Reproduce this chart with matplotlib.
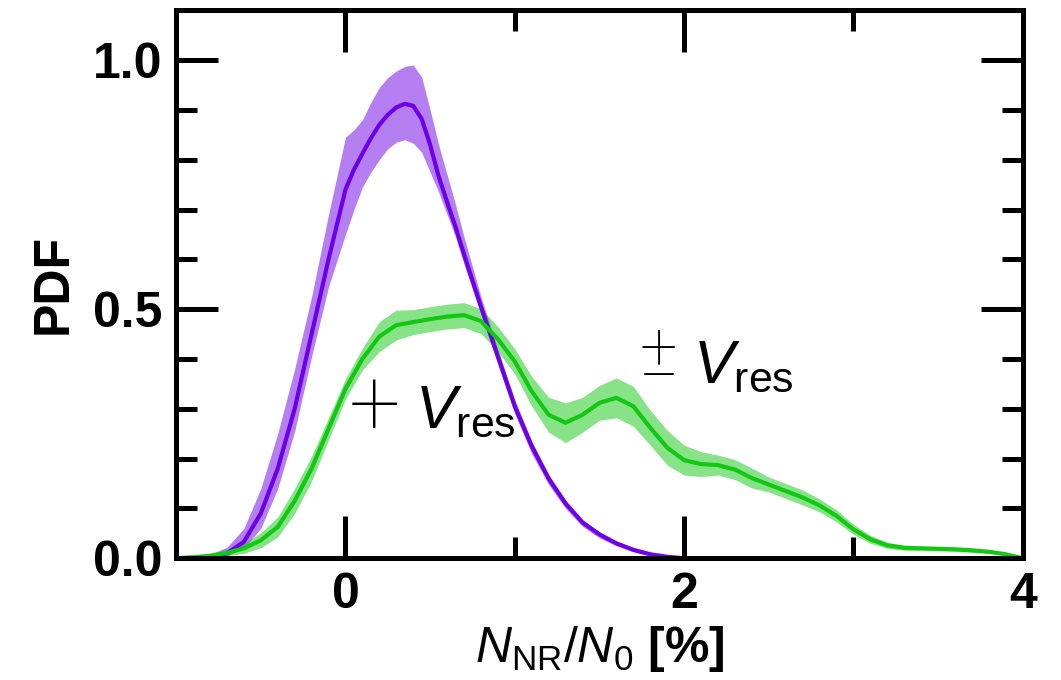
import numpy as np
import matplotlib
matplotlib.use('Agg')
import matplotlib.pyplot as plt
from matplotlib.ticker import MultipleLocator

# fonts: Helvetica-like, math in the same family
plt.rcParams['font.family'] = ['Liberation Sans', 'DejaVu Sans']
plt.rcParams['mathtext.fontset'] = 'custom'
plt.rcParams['mathtext.rm'] = 'Liberation Sans'
plt.rcParams['mathtext.it'] = 'Liberation Sans:italic'
plt.rcParams['mathtext.bf'] = 'Liberation Sans:bold'

# +V_res (purple): mean and band edges
x_plus = [-1.0, -0.9, -0.8, -0.7, -0.6, -0.5, -0.4, -0.3, -0.2, -0.1,
          0.0, 0.05, 0.1, 0.15, 0.2, 0.25, 0.3, 0.35, 0.4, 0.45,
          0.5, 0.55, 0.6, 0.65, 0.7, 0.8, 0.9,
          1.0, 1.1, 1.2, 1.3, 1.4, 1.5, 1.6, 1.7, 1.8, 1.9, 2.0]
pdf_plus = [0.000, 0.001, 0.003, 0.010, 0.033, 0.090, 0.180, 0.300, 0.450, 0.600,
            0.740, 0.780, 0.812, 0.843, 0.870, 0.890, 0.905, 0.912, 0.908, 0.882,
            0.830, 0.767, 0.715, 0.665, 0.610, 0.505, 0.405,
            0.305, 0.225, 0.160, 0.110, 0.072, 0.048, 0.030, 0.017, 0.008, 0.003, 0.000]
pdf_plus_lo = [0.000, 0.000, 0.001, 0.005, 0.020, 0.060, 0.140, 0.255, 0.405, 0.545,
               0.650, 0.700, 0.745, 0.775, 0.800, 0.822, 0.835, 0.840, 0.833, 0.815,
               0.775, 0.735, 0.690, 0.645, 0.590, 0.490, 0.390,
               0.290, 0.210, 0.148, 0.100, 0.064, 0.041, 0.025, 0.013, 0.005, 0.001, 0.000]
pdf_plus_hi = [0.000, 0.002, 0.008, 0.022, 0.060, 0.140, 0.250, 0.380, 0.525, 0.690,
               0.845, 0.860, 0.880, 0.915, 0.945, 0.965, 0.978, 0.987, 0.990, 0.966,
               0.900, 0.830, 0.770, 0.710, 0.645, 0.525, 0.420,
               0.318, 0.235, 0.168, 0.116, 0.077, 0.052, 0.033, 0.019, 0.009, 0.003, 0.000]

# ±V_res (green), x from -1.0 to 4.0 step 0.1
x_pm = [-1.0, -0.9, -0.8, -0.7, -0.6, -0.5, -0.4, -0.3, -0.2, -0.1,
        0.0, 0.1, 0.2, 0.3, 0.4, 0.5, 0.6, 0.7, 0.8, 0.9,
        1.0, 1.1, 1.2, 1.3, 1.4, 1.5, 1.6, 1.7, 1.8, 1.9,
        2.0, 2.1, 2.2, 2.3, 2.4, 2.5, 2.6, 2.7, 2.8, 2.9,
        3.0, 3.1, 3.2, 3.3, 3.4, 3.5, 3.6, 3.7, 3.8, 3.9, 4.0]
pdf_pm = [0.000, 0.002, 0.005, 0.011, 0.020, 0.036, 0.063, 0.115, 0.180, 0.260,
          0.340, 0.400, 0.445, 0.468, 0.474, 0.480, 0.485, 0.488, 0.476, 0.440,
          0.395, 0.335, 0.288, 0.272, 0.288, 0.312, 0.322, 0.305, 0.262, 0.222,
          0.197, 0.189, 0.187, 0.178, 0.161, 0.148, 0.135, 0.122, 0.106, 0.085,
          0.058, 0.038, 0.026, 0.021, 0.020, 0.019, 0.018, 0.016, 0.013, 0.008, 0.000]
pdf_pm_err = [0.000, 0.001, 0.003, 0.006, 0.010, 0.015, 0.020, 0.025, 0.025, 0.022,
              0.020, 0.022, 0.030, 0.030, 0.025, 0.025, 0.025, 0.025, 0.025, 0.025,
              0.025, 0.030, 0.035, 0.040, 0.035, 0.035, 0.040, 0.040, 0.035, 0.035,
              0.030, 0.025, 0.020, 0.020, 0.020, 0.015, 0.015, 0.015, 0.013, 0.012,
              0.010, 0.008, 0.006, 0.005, 0.004, 0.004, 0.004, 0.004, 0.003, 0.002, 0.000]

purple = '#6c00e6'
green = '#12c812'

fig = plt.figure(figsize=(10.61, 6.8), dpi=100)
ax = fig.add_axes([0.166, 0.179, 0.798, 0.806])

pm = np.array(pdf_pm)
err = np.array(pdf_pm_err)

ax.fill_between(x_plus, pdf_plus_lo, pdf_plus_hi, color=purple, alpha=0.5, lw=0)
ax.plot(x_plus, pdf_plus, color=purple, lw=3, solid_joinstyle='round')
ax.fill_between(x_pm, pm - err, pm + err, color=green, alpha=0.5, lw=0)
ax.plot(x_pm, pm, color=green, lw=3, solid_joinstyle='round')

# curve labels (thin symbols, italic V with upright subscript)
sym = dict(family=['Roboto', 'Liberation Sans'], fontweight='light')
ax.text(0.02, 0.25, '+', fontsize=66, **sym)
ax.text(0.41, 0.263, r'$V_{\mathrm{res}}$', fontsize=44)
ax.text(1.735, 0.367, '±', fontsize=52, **sym)
ax.text(2.05, 0.353, r'$V_{\mathrm{res}}$', fontsize=44)

ax.set_xlim(-1, 4)
ax.set_ylim(0, 1.1)
ax.xaxis.set_major_locator(MultipleLocator(2))
ax.xaxis.set_minor_locator(MultipleLocator(1))
ax.yaxis.set_major_locator(MultipleLocator(0.5))
ax.yaxis.set_minor_locator(MultipleLocator(0.1))
ax.yaxis.set_major_formatter(matplotlib.ticker.FormatStrFormatter('%.1f'))

ax.tick_params(which='both', direction='in', top=True, right=True, width=3.6)
ax.tick_params(which='major', length=30, labelsize=36, pad=10)
ax.tick_params(which='minor', length=15)
for lab in ax.get_xticklabels() + ax.get_yticklabels():
    lab.set_fontweight('bold')
for sp in ax.spines.values():
    sp.set_linewidth(3.6)

ax.set_ylabel('PDF', fontsize=36, fontweight='bold', labelpad=12)
ax.set_xlabel(r'$N_{\mathrm{NR}}/N_0$ [%]', fontsize=36, fontweight='bold', labelpad=4)

fig.savefig('out.png', dpi=100)
